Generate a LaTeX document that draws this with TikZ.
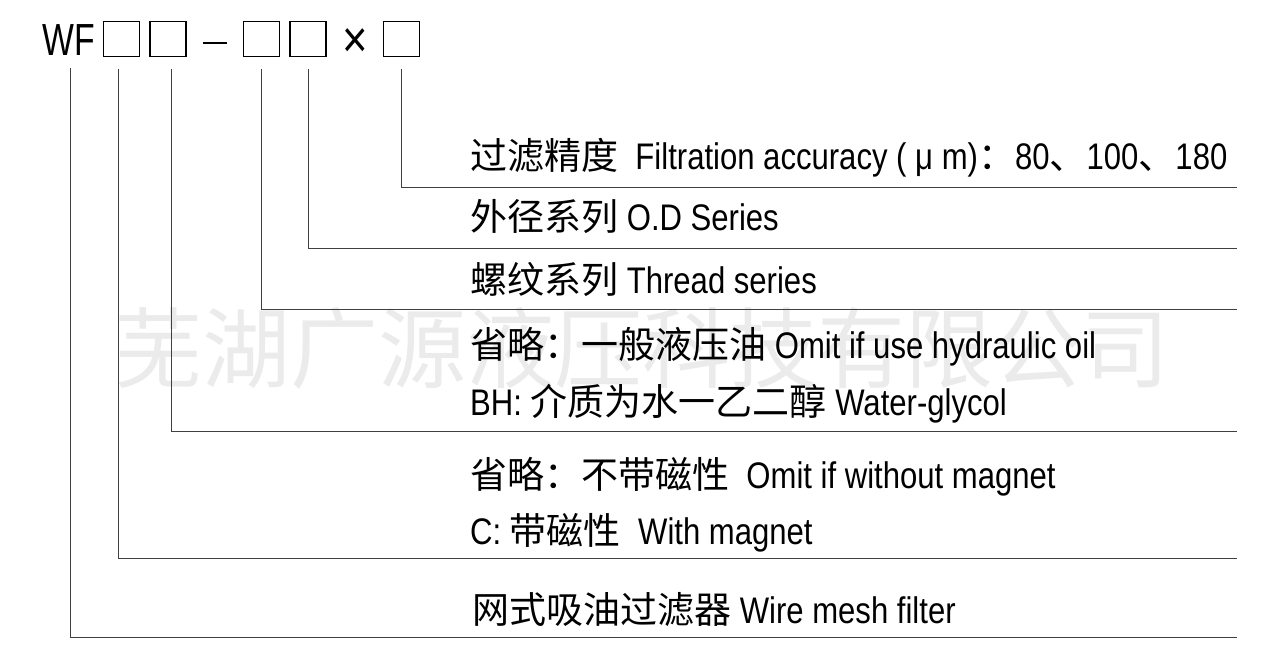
\documentclass[tikz,border=0pt]{standalone}
\usepackage{fontspec}
\setmainfont[FakeStretch=0.84]{Liberation Sans}
\newfontfamily\codefont[FakeStretch=0.75]{Liberation Sans}
\newfontfamily\cjk{Noto Sans CJK SC}
\usetikzlibrary{positioning}

\tikzset{
	codebox/.style={draw,line width=1.6pt,minimum width=36pt,minimum height=35pt,inner sep=0pt},
	lead/.style={line width=1pt,black!75},
	desc/.style={anchor=base west,inner sep=0pt,font=\fontsize{37}{40}\selectfont},
}
\newcommand{\zh}[1]{{\cjk\fontsize{37}{40}\selectfont #1}}

\begin{document}
\begin{tikzpicture}[x=1pt,y=-1pt]
	\useasboundingbox (0,0) rectangle (1283,672);
	
	% watermark
	\node[black!8,font=\cjk\fontsize{88}{90}\selectfont] (mark) at (642,348) {芜湖广源液压科技有限公司};
	
	% model code
	\node[anchor=base west,inner sep=0pt,font=\codefont\fontsize{45}{48}\selectfont] (wf) at (42,55) {WF};
	\node[codebox] (b1) at (121.5,39) {};
	\node[codebox] (b2) at (168,39) {};
	\draw[line width=2.2pt] (203,43) -- (227,43);
	\node[codebox] (b3) at (261.5,39) {};
	\node[codebox] (b4) at (308,39) {};
	\node[inner sep=0pt,font=\fontsize{52}{54}\selectfont] (times) at (355,43) {×};
	\node[codebox] (b5) at (401.5,39) {};
	
	% line ends
	\coordinate (e1) at (1237,187);
	\coordinate (e2) at (1237,248);
	\coordinate (e3) at (1237,309);
	\coordinate (e4) at (1237,431);
	\coordinate (e5) at (1237,558);
	\coordinate (e6) at (1237,637);
	
	\draw[lead] ([yshift=-12pt]b5.south) |- (e1);
	\draw[lead] ([yshift=-12pt]b4.south) |- (e2);
	\draw[lead] ([yshift=-12pt]b3.south) |- (e3);
	\draw[lead] ([xshift=3pt,yshift=-12pt]b2.south) |- (e4);
	\draw[lead] ([xshift=-3pt,yshift=-12pt]b1.south) |- (e5);
	\draw[lead] ([xshift=2pt,yshift=-13pt]wf.south) |- (e6);
	
	% descriptions
	\node[desc] (t1) at (470,169) {\zh{过滤精度}\ \ Filtration accuracy ( μ m)\zh{：}80\zh{、}100\zh{、}180};
	\node[desc] (t2) at (470,230) {\zh{外径系列} O.D Series};
	\node[desc] (t3) at (470,293) {\zh{螺纹系列} Thread series};
	\node[desc] (t4) at (470,358) {\zh{省略：一般液压油} Omit if use hydraulic oil};
	\node[desc] (t5) at (470,415) {BH: \zh{介质为水一乙二醇} Water-glycol};
	\node[desc] (t6) at (470,488) {\zh{省略：不带磁性}\ \ Omit if without magnet};
	\node[desc] (t7) at (470,544) {C: \zh{带磁性}\ \ With magnet};
	\node[desc] (t8) at (472,623) {\zh{网式吸油过滤器} Wire mesh filter};
\end{tikzpicture}
\end{document}
